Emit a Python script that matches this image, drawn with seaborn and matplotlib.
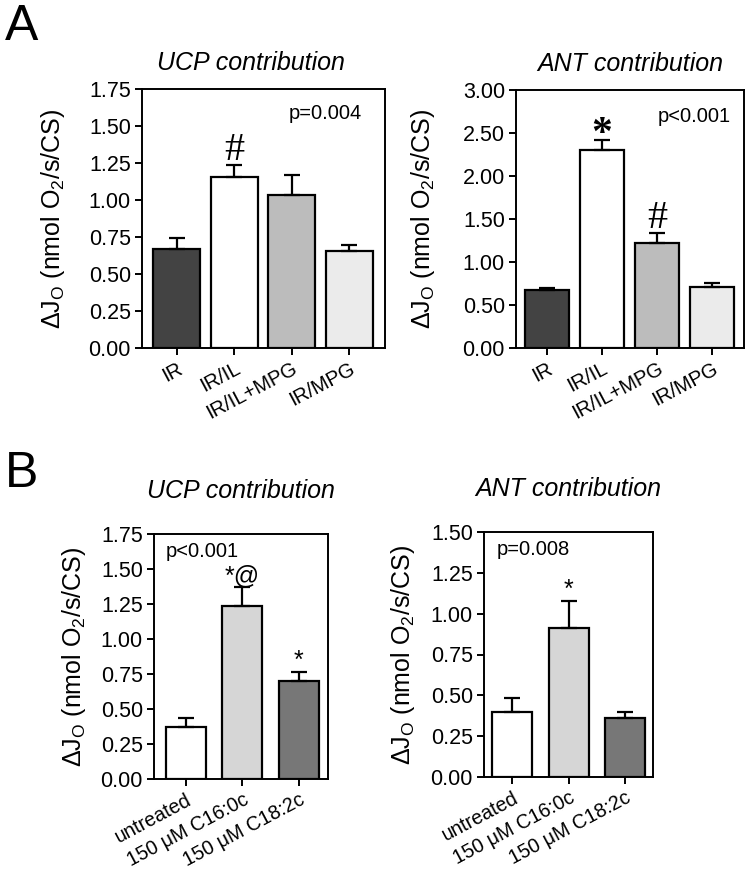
import matplotlib
matplotlib.use("Agg")
import matplotlib.pyplot as plt
import seaborn as sns
import pandas as pd
import numpy as np

sns.set_style("ticks")
plt.rcParams['font.family'] = ['Liberation Sans', 'DejaVu Sans']
plt.rcParams['mathtext.fontset'] = 'custom'
plt.rcParams['mathtext.rm'] = 'Liberation Sans'
plt.rcParams['mathtext.it'] = 'Liberation Sans:italic'
for k in ['text.color', 'axes.labelcolor', 'xtick.color', 'ytick.color',
          'axes.edgecolor']:
    plt.rcParams[k] = 'black'

# ---- data ----
groups_a = ["IR", "IR/IL", "IR/IL+MPG", "IR/MPG"]
colors_a = ["#434343", "#ffffff", "#bcbcbc", "#ebebeb"]
ucp_a = [0.67, 1.155, 1.036, 0.655]
ucp_a_err = [0.075, 0.083, 0.133, 0.042]
ant_a = [0.67, 2.30, 1.225, 0.71]
ant_a_err = [0.03, 0.115, 0.11, 0.045]

groups_b = ["untreated", "150 μM C16:0c", "150 μM C18:2c"]
colors_b = ["#ffffff", "#d6d6d6", "#777777"]
ucp_b = [0.37, 1.233, 0.70]
ucp_b_err = [0.063, 0.137, 0.065]
ant_b = [0.40, 0.91, 0.362]
ant_b_err = [0.086, 0.168, 0.036]

ylabel = r"ΔJ$_\mathregular{O}$ (nmol O$_\mathregular{2}$/s/CS)"

W, H = 750, 876
fig = plt.figure(figsize=(7.5, 8.76), dpi=100)

YTICK_FS = 15.5
P_FS = 14.5
LABEL_FS = 18
TITLE_FS = 18


def make_axes(l, r, t, b):
    return fig.add_axes([l / W, 1 - b / H, (r - l) / W, (b - t) / H])


def panel(ax, groups, vals, errs, colors, ymax, yticks, xlim, width,
          title, title_x, title_pad, ptext, ploc, marks, xrot, xfs, labx):
    df = pd.DataFrame({"group": groups, "value": vals})
    sns.barplot(data=df, x="group", y="value", hue="group", palette=colors,
                order=groups, hue_order=groups, legend=False, ax=ax,
                width=width, edgecolor="black", linewidth=1.6, errorbar=None)
    x = np.arange(len(groups))
    ax.errorbar(x, vals, yerr=[np.zeros(len(vals)), errs], fmt="none",
                ecolor="black", elinewidth=1.6, capsize=6, capthick=1.6,
                zorder=1)
    ax.set_ylim(0, ymax)
    ax.set_xlim(*xlim)
    ax.set_yticks(yticks)
    ax.set_yticklabels(["{:.2f}".format(v) for v in yticks], fontsize=YTICK_FS)
    ax.set_xticks(x)
    ax.set_xticklabels(groups, rotation=xrot, ha="right",
                       rotation_mode="anchor", fontsize=xfs)
    ax.tick_params(axis="both", direction="out", length=5, width=1.4,
                   color="black", pad=3)
    for s in ax.spines.values():
        s.set_visible(True)
        s.set_linewidth(1.4)
        s.set_color("black")
    ax.set_xlabel("")
    ax.set_ylabel(ylabel, fontsize=LABEL_FS)
    ax.yaxis.set_label_coords(labx, 0.5)
    ax.set_title(title, fontsize=TITLE_FS, style="italic", pad=title_pad,
                 x=title_x)
    ax.text(ploc[0], ploc[1], ptext, transform=ax.transAxes,
            ha=ploc[2], va="center", fontsize=P_FS)
    for (i, txt, fam, fs, weight, off) in marks:
        ax.annotate(txt, xy=(i, vals[i] + errs[i]), xytext=(0, off),
                    textcoords="offset points", ha="center", va="bottom",
                    fontsize=fs, family=fam, fontweight=weight)


# Panel A left
ax1 = make_axes(142, 385, 89, 348)
panel(ax1, groups_a, ucp_a, ucp_a_err, colors_a, 1.75,
      [0, 0.25, 0.5, 0.75, 1.0, 1.25, 1.5, 1.75], (-0.6, 3.62), 0.82,
      "UCP contribution", 0.45, 14, "p=0.004", (0.905, 0.905, "right"),
      [(1, "#", ["Liberation Serif"], 29, "normal", -3)], 28, 14.5, -0.31)

# Panel A right
ax2 = make_axes(516, 744, 90, 348)
panel(ax2, groups_a, ant_a, ant_a_err, colors_a, 3.0,
      [0, 0.5, 1.0, 1.5, 2.0, 2.5, 3.0], (-0.56, 3.58), 0.8,
      "ANT contribution", 0.5, 14, "p<0.001", (0.94, 0.897, "right"),
      [(1, "*", ["Liberation Serif"], 30, "bold", -10),
       (2, "#", ["Liberation Serif"], 29, "normal", -3)], 28, 14.5, -0.345)

# Panel B left
ax3 = make_axes(154, 328, 534, 779)
panel(ax3, groups_b, ucp_b, ucp_b_err, colors_b, 1.75,
      [0, 0.25, 0.5, 0.75, 1.0, 1.25, 1.5, 1.75], (-0.57, 2.52), 0.71,
      "UCP contribution", 0.5, 26, "p<0.001", (0.07, 0.93, "left"),
      [(1, "*@", ["Liberation Sans"], 18, "normal", -1),
       (2, "*", ["Liberation Sans"], 18, "normal", -1)], 28, 14.2, -0.38)

# Panel B right
ax4 = make_axes(484, 653, 532, 777)
panel(ax4, groups_b, ant_b, ant_b_err, colors_b, 1.5,
      [0, 0.25, 0.5, 0.75, 1.0, 1.25, 1.5], (-0.5, 2.49), 0.71,
      "ANT contribution", 0.5, 26, "p=0.008", (0.075, 0.93, "left"),
      [(1, "*", ["Liberation Sans"], 18, "normal", -1)], 28, 14.2, -0.395)

fig.text(5 / W, 1 - 40 / H, "A", fontsize=36, ha="left", va="baseline")
fig.text(5 / W, 1 - 487 / H, "B", fontsize=36, ha="left", va="baseline")

fig.savefig("out.png", dpi=100, facecolor="white")
